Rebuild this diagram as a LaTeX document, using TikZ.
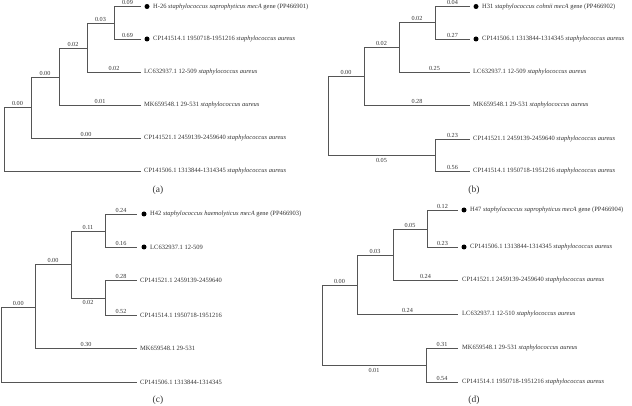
\documentclass[tikz,border=0pt]{standalone}
\usepackage{fontspec}
\setmainfont{Liberation Serif}
\definecolor{brcol}{HTML}{555555}
\definecolor{txtcol}{HTML}{333333}
\begin{document}
\begin{tikzpicture}[x=1pt,y=-1pt,
  br/.style={draw=brcol, line width=0.9pt},
  bl/.style={font=\fontsize{6.2}{7}\selectfont, text=txtcol, inner sep=1pt},
  lf/.style={font=\fontsize{6.5}{7}\selectfont, text=txtcol, anchor=west, inner sep=0pt},
  leafdot/.style={circle, fill=black, inner sep=0pt, minimum size=5pt},
  panelcap/.style={font=\fontsize{9.5}{11}\selectfont, text=txtcol}]
\useasboundingbox (0,0) rectangle (632,406);

% ---------------- (a) ----------------
\coordinate (a0) at (4,139);
\coordinate (a1) at (31,107);
\coordinate (a2) at (59,77);
\coordinate (a3) at (87,48);
\coordinate (a4) at (114,23);
\coordinate (at1) at (141,6.5);
\coordinate (at2) at (141,39);
\coordinate (at3) at (141,72);
\coordinate (at4) at (141,105);
\coordinate (at5) at (141,138);
\coordinate (at6) at (141,171);
\draw[br] (a0) |- (a1) node[bl,pos=0.75,above] {0.00};
\draw[br] (a0) |- (at6);
\draw[br] (a1) |- (a2) node[bl,pos=0.75,above] {0.00};
\draw[br] (a1) |- (at5) node[bl,pos=0.75,above] {0.00};
\draw[br] (a2) |- (a3) node[bl,pos=0.75,above] {0.02};
\draw[br] (a2) |- (at4) node[bl,pos=0.75,above] {0.01};
\draw[br] (a3) |- (a4) node[bl,pos=0.75,above] {0.03};
\draw[br] (a3) |- (at3) node[bl,pos=0.75,above] {0.02};
\draw[br] (a4) |- (at1) node[bl,pos=0.75,above] {0.09};
\draw[br] (a4) |- (at2) node[bl,pos=0.75,above] {0.69};
\node[leafdot] (ad1) at (147,6.5) {};
\node[leafdot] (ad2) at (147,39) {};
\node[lf] (al1) at (153,6.5) {H-26 \textit{staphylococcus saprophyticus mecA} gene (PP466901)};
\node[lf] (al2) at (153,39) {CP141514.1 1950718-1951216 \textit{staphylococcus aureus}};
\node[lf] (al3) at (144,72) {LC632937.1 12-509 \textit{staphylococcus aureus}};
\node[lf] (al4) at (144,105) {MK659548.1 29-531 \textit{staphylococcus aureus}};
\node[lf] (al5) at (144,138) {CP141521.1 2459139-2459640 \textit{staphylococcus aureus}};
\node[lf] (al6) at (144,171) {CP141506.1 1313844-1314345 \textit{staphylococcus aureus}};
\node[panelcap] (acap) at (158,190) {(a)};

% ---------------- (b) ----------------
\coordinate (b0) at (328,115);
\coordinate (b2) at (364,76);
\coordinate (b3) at (399,47);
\coordinate (b4) at (435,22);
\coordinate (b5) at (435,155);
\coordinate (bt1) at (470,6.5);
\coordinate (bt2) at (470,39);
\coordinate (bt3) at (470,72);
\coordinate (bt4) at (470,105);
\coordinate (bt5) at (470,139);
\coordinate (bt6) at (470,171);
\draw[br] (b0) |- (b2) node[bl,pos=0.75,above] {0.00};
\draw[br] (b0) |- (b5) node[bl,pos=0.75,below,yshift=-2pt] {0.05};
\draw[br] (b2) |- (b3) node[bl,pos=0.75,above] {0.02};
\draw[br] (b2) |- (bt4) node[bl,pos=0.75,above] {0.28};
\draw[br] (b3) |- (b4) node[bl,pos=0.75,above] {0.02};
\draw[br] (b3) |- (bt3) node[bl,pos=0.75,above] {0.25};
\draw[br] (b4) |- (bt1) node[bl,pos=0.75,above] {0.04};
\draw[br] (b4) |- (bt2) node[bl,pos=0.75,above] {0.27};
\draw[br] (b5) |- (bt5) node[bl,pos=0.75,above] {0.23};
\draw[br] (b5) |- (bt6) node[bl,pos=0.75,above] {0.56};
\node[leafdot] (bd1) at (476,6.5) {};
\node[leafdot] (bd2) at (476,39) {};
\node[lf] (bl1) at (482,6.5) {H31 \textit{staphylococcus cohnii mecA} gene (PP466902)};
\node[lf] (bl2) at (482,39) {CP141506.1 1313844-1314345 \textit{staphylococcus aureus}};
\node[lf] (bl3) at (473,72) {LC632937.1 12-509 \textit{staphylococcus aureus}};
\node[lf] (bl4) at (473,105) {MK659548.1 29-531 \textit{staphylococcus aureus}};
\node[lf] (bl5) at (473,139) {CP141521.1 2459139-2459640 \textit{staphylococcus aureus}};
\node[lf] (bl6) at (473,171) {CP141514.1 1950718-1951216 \textit{staphylococcus aureus}};
\node[panelcap] (bcap) at (474,190) {(b)};

% ---------------- (c) ----------------
\coordinate (c0) at (1.5,345);
\coordinate (c2) at (35,307);
\coordinate (c3) at (71,264);
\coordinate (c4) at (105,231);
\coordinate (c5) at (105,298);
\coordinate (ct1) at (137,214);
\coordinate (ct2) at (137,247);
\coordinate (ct3) at (137,280);
\coordinate (ct4) at (137,315);
\coordinate (ct5) at (137,348);
\coordinate (ct6) at (137,382);
\draw[br] (c0) |- (c2) node[bl,pos=0.75,above] {0.00};
\draw[br] (c0) |- (ct6);
\draw[br] (c2) |- (c3) node[bl,pos=0.75,above] {0.00};
\draw[br] (c2) |- (ct5) node[bl,pos=0.75,above] {0.30};
\draw[br] (c3) |- (c4) node[bl,pos=0.75,above] {0.11};
\draw[br] (c3) |- (c5) node[bl,pos=0.75,below,yshift=-1pt] {0.02};
\draw[br] (c4) |- (ct1) node[bl,pos=0.75,above] {0.24};
\draw[br] (c4) |- (ct2) node[bl,pos=0.75,above] {0.16};
\draw[br] (c5) |- (ct3) node[bl,pos=0.75,above] {0.28};
\draw[br] (c5) |- (ct4) node[bl,pos=0.75,above] {0.52};
\node[leafdot] (cd1) at (144,214) {};
\node[leafdot] (cd2) at (144,247) {};
\node[lf] (cl1) at (150,214) {H42 \textit{staphylococcus haemolyticus mecA} gene (PP466903)};
\node[lf] (cl2) at (150,247) {LC632937.1 12-509};
\node[lf] (cl3) at (140,280) {CP141521.1 2459139-2459640};
\node[lf] (cl4) at (140,315) {CP141514.1 1950718-1951216};
\node[lf] (cl5) at (140,348) {MK659548.1 29-531};
\node[lf] (cl6) at (140,382) {CP141506.1 1313844-1314345};
\node[panelcap] (ccap) at (158,400) {(c)};

% ---------------- (d) ----------------
\coordinate (d0) at (322,325);
\coordinate (d2) at (357,285);
\coordinate (d3) at (393,255);
\coordinate (d4) at (427,229);
\coordinate (d5) at (426,365);
\coordinate (dt1) at (458,210);
\coordinate (dt2) at (458,247);
\coordinate (dt3) at (458,280);
\coordinate (dt4) at (458,314);
\coordinate (dt5) at (458,348);
\coordinate (dt6) at (458,382);
\draw[br] (d0) |- (d2) node[bl,pos=0.75,above] {0.00};
\draw[br] (d0) |- (d5) node[bl,pos=0.75,below,yshift=-2pt] {0.01};
\draw[br] (d2) |- (d3) node[bl,pos=0.75,above] {0.03};
\draw[br] (d2) |- (dt4) node[bl,pos=0.75,above] {0.24};
\draw[br] (d3) |- (d4) node[bl,pos=0.75,above] {0.05};
\draw[br] (d3) |- (dt3) node[bl,pos=0.75,above] {0.24};
\draw[br] (d4) |- (dt1) node[bl,pos=0.75,above] {0.12};
\draw[br] (d4) |- (dt2) node[bl,pos=0.75,above] {0.23};
\draw[br] (d5) |- (dt5) node[bl,pos=0.75,above] {0.31};
\draw[br] (d5) |- (dt6) node[bl,pos=0.75,above] {0.54};
\node[leafdot] (dd1) at (464,210) {};
\node[leafdot] (dd2) at (464,247) {};
\node[lf] (dl1) at (470,210) {H47 \textit{staphylococcus saprophyticus mecA} gene (PP466904)};
\node[lf] (dl2) at (470,247) {CP141506.1 1313844-1314345 \textit{staphylococcus aureus}};
\node[lf] (dl3) at (462,280) {CP141521.1 2459139-2459640 \textit{staphylococcus aureus}};
\node[lf] (dl4) at (462,314) {LC632937.1 12-510 \textit{staphylococcus aureus}};
\node[lf] (dl5) at (462,348) {MK659548.1 29-531 \textit{staphylococcus aureus}};
\node[lf] (dl6) at (462,382) {CP141514.1 1950718-1951216 \textit{staphylococcus aureus}};
\node[panelcap] (dcap) at (474,400) {(d)};
\end{tikzpicture}
\end{document}
